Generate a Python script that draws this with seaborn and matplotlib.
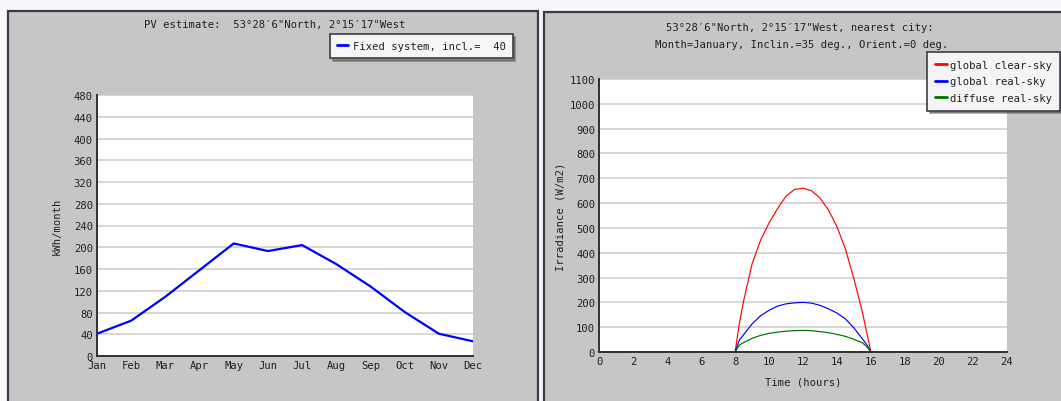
import numpy as np
import pandas as pd
import matplotlib
matplotlib.use("Agg")
import matplotlib.pyplot as plt
from matplotlib.patches import Rectangle
import seaborn as sns

# Monthly PV output (kWh/month)
months = ["Jan", "Feb", "Mar", "Apr", "May", "Jun",
          "Jul", "Aug", "Sep", "Oct", "Nov", "Dec"]
pv_kwh = [41, 65, 109, 158, 207, 193, 204, 169, 128, 81, 41, 27]

# Daily irradiance profile for January (W/m2)
hours = [8.0, 8.25, 8.5, 9.0, 9.5, 10.0, 10.5, 11.0, 11.5, 12.0,
         12.5, 13.0, 13.5, 14.0, 14.5, 15.0, 15.5, 15.75, 16.0]
global_clear = [0, 115, 205, 355, 450, 520, 578, 628, 655, 660,
                650, 620, 572, 505, 415, 295, 160, 80, 0]
global_real = [0, 48, 70, 113, 146, 168, 185, 194, 198, 200,
               197, 188, 174, 157, 133, 97, 53, 30, 0]
diffuse_real = [0, 28, 38, 55, 67, 75, 80, 84, 86, 87,
                86, 82, 78, 71, 63, 51, 37, 22, 0]

sns.set_style("white")
plt.rcParams["font.family"] = ["DejaVu Sans Mono", "DejaVu Sans"]
FS = 7.6
TXT = "#202020"
GRID = "#d6d6d6"
PANEL = "#c6c6c6"
EDGE = "#3c3c48"

W, H = 1061, 402
fig = plt.figure(figsize=(W / 100, H / 100), dpi=100)
fig.patch.set_facecolor("#f8f8fc")


def fx(x):
    return x / W


def fy(y):
    return 1 - y / H


# grey panels behind both charts
fig.patches.append(Rectangle((fx(8), -0.1), fx(530), fy(12) + 0.1,
                             transform=fig.transFigure, facecolor=PANEL,
                             edgecolor=EDGE, linewidth=1.6, zorder=-5))
fig.patches.append(Rectangle((fx(544), -0.1), fx(530), fy(13) + 0.1,
                             transform=fig.transFigure, facecolor=PANEL,
                             edgecolor=EDGE, linewidth=1.6, zorder=-5))


def style_axes(ax):
    ax.set_facecolor("white")
    for s in ("top", "right"):
        ax.spines[s].set_visible(False)
    for s in ("left", "bottom"):
        ax.spines[s].set_color("#303030")
        ax.spines[s].set_linewidth(1.4)
    ax.tick_params(direction="in", length=3.6, width=1.1, color="#303030",
                   labelsize=FS, labelcolor=TXT, pad=3)
    ax.yaxis.grid(True, color=GRID, linewidth=1.4)
    ax.xaxis.grid(False)
    ax.set_axisbelow(True)


# ---- left: monthly PV estimate ----
ax1 = fig.add_axes([fx(97), fy(357), fx(473 - 97), (357 - 96) / H])
style_axes(ax1)
df_pv = pd.DataFrame({"month": months, "kwh": pv_kwh})
sns.lineplot(data=df_pv, x="month", y="kwh", ax=ax1, color="#0000ff",
             linewidth=1.6, label="Fixed system, incl.=  40", sort=False)
ax1.set_xlim(0, 11)
ax1.set_ylim(0, 480)
ax1.set_yticks(np.arange(0, 481, 40))
ax1.set_xlabel("")
ax1.set_ylabel("kWh/month", fontsize=FS, color=TXT)
ax1.yaxis.set_label_coords(-0.093, 0.5)
h1, l1 = ax1.get_legend_handles_labels()
ax1.get_legend().remove()
leg1 = fig.legend(h1, l1, loc="upper left",
                  bbox_to_anchor=(fx(330), fy(35)), bbox_transform=fig.transFigure,
                  frameon=True, fancybox=False, shadow=True, borderaxespad=0,
                  handlelength=1.1, handletextpad=0.4, borderpad=0.65,
                  fontsize=FS)
leg1.get_frame().set_facecolor("#f6f6f6")
leg1.get_frame().set_edgecolor(EDGE)
leg1.get_frame().set_linewidth(1.2)
for t in leg1.get_texts():
    t.set_color(TXT)
for ln in leg1.get_lines():
    ln.set_linewidth(2)

fig.text(fx(275), fy(25), "PV estimate:  53°28′6\"North, 2°15′17\"West",
         ha="center", va="center", fontsize=FS, color=TXT)

# ---- right: daily irradiance ----
ax2 = fig.add_axes([fx(599.3), fy(353), fx(1006.7 - 599.3), (353 - 80) / H])
style_axes(ax2)
df_irr = pd.DataFrame({
    "hour": hours * 3,
    "value": global_clear + global_real + diffuse_real,
    "series": (["global clear-sky"] * len(hours)
               + ["global real-sky"] * len(hours)
               + ["diffuse real-sky"] * len(hours)),
})
sns.lineplot(data=df_irr, x="hour", y="value", hue="series", ax=ax2,
             palette={"global clear-sky": "#ff0000",
                      "global real-sky": "#0000ff",
                      "diffuse real-sky": "#007000"},
             linewidth=0.85, sort=False)
ax2.set_xlim(0, 24)
ax2.set_ylim(0, 1100)
ax2.set_xticks(np.arange(0, 25, 2))
ax2.set_yticks(np.arange(0, 1101, 100))
ax2.set_xlabel("Time (hours)", fontsize=FS, color=TXT)
ax2.xaxis.set_label_coords(0.5, -0.09)
ax2.set_ylabel("Irradiance (W/m2)", fontsize=FS, color=TXT)
ax2.yaxis.set_label_coords(-0.082, 0.5)
h2, l2 = ax2.get_legend_handles_labels()
ax2.get_legend().remove()
leg2 = fig.legend(h2, l2, loc="upper left",
                  bbox_to_anchor=(fx(927), fy(53)), bbox_transform=fig.transFigure,
                  frameon=True, fancybox=False, shadow=True, borderaxespad=0,
                  handlelength=1.1, handletextpad=0.3, borderpad=0.75,
                  labelspacing=0.6, fontsize=FS)
leg2.get_frame().set_facecolor("#f4f4f4")
leg2.get_frame().set_edgecolor(EDGE)
leg2.get_frame().set_linewidth(1.2)
for t in leg2.get_texts():
    t.set_color(TXT)
for ln in leg2.get_lines():
    ln.set_linewidth(2)

fig.text(fx(800), fy(28), "53°28′6\"North, 2°15′17\"West, nearest city:",
         ha="center", va="center", fontsize=FS, color=TXT)
fig.text(fx(802), fy(44.7), "Month=January, Inclin.=35 deg., Orient.=0 deg.",
         ha="center", va="center", fontsize=FS, color=TXT)

fig.savefig("out.png", dpi=100, facecolor=fig.get_facecolor())
